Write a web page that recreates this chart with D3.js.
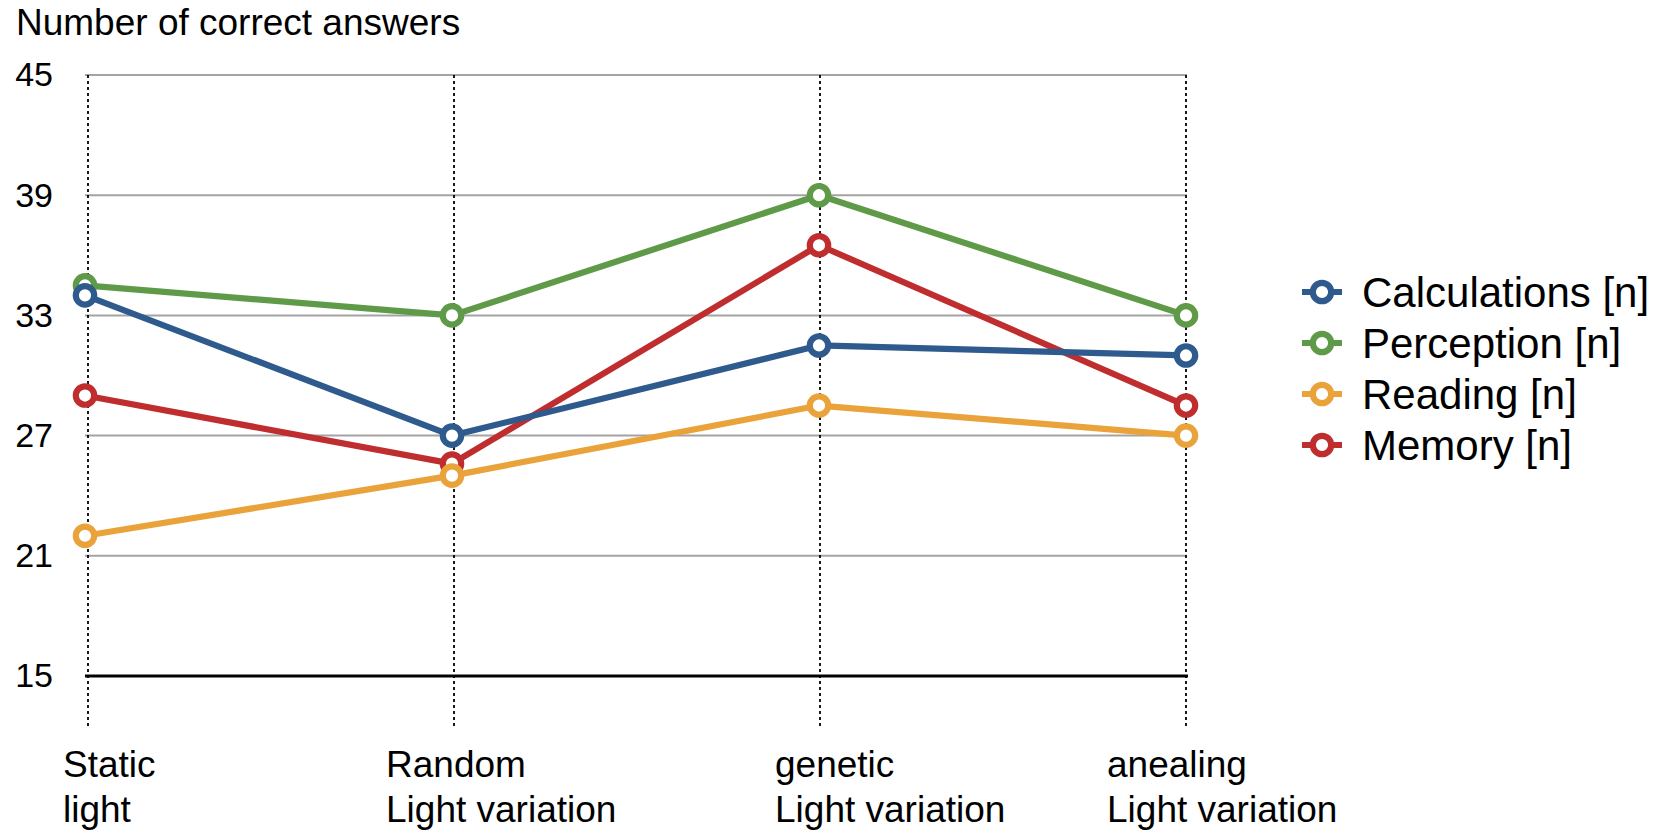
<!DOCTYPE html>
<html>
<head>
<meta charset="utf-8">
<script src="https://cdn.jsdelivr.net/npm/d3@7"></script>
<style>
  html, body { margin: 0; padding: 0; background: #fff; }
  svg { display: block; font-family: "Liberation Sans", Arial, sans-serif; }
</style>
</head>
<body>
<svg id="chart" width="1659" height="833"></svg>
<script>
// Conditions along the x axis (two-line labels)
const categories = ["Static", "Random", "genetic", "anealing"];
const categoryLines = [
  ["Static", "light"],
  ["Random", "Light variation"],
  ["genetic", "Light variation"],
  ["anealing", "Light variation"]
];

// Series names, colours and values (number of correct answers)
const seriesNames = ["Calculations [n]", "Perception [n]", "Reading [n]", "Memory [n]"];
const seriesColors = ["#2e5a8d", "#5f9a48", "#eaa33b", "#bf2d2f"];
const calculations = [34, 27, 31.5, 31];
const perception = [34.5, 33, 39, 33];
const reading = [22, 25, 28.5, 27];
const memory = [29, 25.6, 36.5, 28.5];
const seriesValues = [calculations, perception, reading, memory];

// Y axis ticks
const yTicks = [15, 21, 27, 33, 39, 45];
const yTitle = "Number of correct answers";

const svg = d3.select("#chart");

const x = d3.scalePoint().domain(categories).range([85, 1186]);
const xGuide = d3.scalePoint().domain(categories).range([88, 1186]);
const y = d3.scaleLinear().domain([15, 45]).range([676, 75]);

// horizontal gridlines
svg.append("g")
  .selectAll("line")
  .data(yTicks.filter(t => t !== 15))
  .join("line")
  .attr("x1", 85).attr("x2", 1187)
  .attr("y1", d => y(d)).attr("y2", d => y(d))
  .attr("stroke", "#a3a3a3")
  .attr("stroke-width", 2);

// dotted vertical guides at each condition
svg.append("g")
  .selectAll("line")
  .data(categories)
  .join("line")
  .attr("x1", d => xGuide(d)).attr("x2", d => xGuide(d))
  .attr("y1", y(45)).attr("y2", 728)
  .attr("stroke", "#000")
  .attr("stroke-width", 1.8)
  .attr("stroke-dasharray", "3,3");

// baseline at 15
svg.append("line")
  .attr("x1", 85).attr("x2", 1188)
  .attr("y1", y(15)).attr("y2", y(15))
  .attr("stroke", "#000")
  .attr("stroke-width", 3.2);

// y tick labels
const yAxis = svg.append("g")
  .attr("transform", "translate(53,0)")
  .call(d3.axisLeft(y).tickValues(yTicks).tickSize(0).tickPadding(0).tickFormat(d3.format("d")));
yAxis.select(".domain").remove();
yAxis.selectAll("text")
  .attr("font-size", 34)
  .attr("font-family", "'Liberation Sans', Arial, sans-serif")
  .attr("fill", "#000");

// axis title
svg.append("text")
  .attr("x", 16).attr("y", 35)
  .attr("font-size", 37)
  .attr("fill", "#000")
  .text(yTitle);

// category labels (left-aligned blocks)
const labelDx = [-22, -66, -44, -79];
const catG = svg.append("g");
categoryLines.forEach((lines, i) => {
  const t = catG.append("text")
    .attr("x", x(categories[i]) + labelDx[i])
    .attr("y", 777)
    .attr("font-size", 37)
    .attr("fill", "#000");
  lines.forEach((ln, j) => {
    t.append("tspan")
      .attr("x", x(categories[i]) + labelDx[i])
      .attr("y", 777 + j * 45)
      .text(ln);
  });
});

// series lines and markers (drawn last-to-first)
const line = d3.line()
  .x((d, i) => x(categories[i]))
  .y(d => y(d));

const order = [3, 2, 1, 0];
order.forEach(s => {
  const g = svg.append("g");
  g.append("path")
    .datum(seriesValues[s])
    .attr("d", line)
    .attr("fill", "none")
    .attr("stroke", seriesColors[s])
    .attr("stroke-width", 6.2)
    .attr("stroke-linejoin", "round");
  g.selectAll("circle")
    .data(seriesValues[s])
    .join("circle")
    .attr("cx", (d, i) => x(categories[i]))
    .attr("cy", d => y(d))
    .attr("r", 9.2)
    .attr("fill", "#fff")
    .attr("stroke", seriesColors[s])
    .attr("stroke-width", 6.2);
});

// legend
const legend = svg.append("g").attr("transform", "translate(1302,292)");
seriesNames.forEach((name, i) => {
  const row = legend.append("g").attr("transform", `translate(0,${i * 51})`);
  row.append("line")
    .attr("x1", 0).attr("x2", 40)
    .attr("y1", 0).attr("y2", 0)
    .attr("stroke", seriesColors[i])
    .attr("stroke-width", 6.2);
  row.append("circle")
    .attr("cx", 20).attr("cy", 0).attr("r", 9.2)
    .attr("fill", "#fff")
    .attr("stroke", seriesColors[i])
    .attr("stroke-width", 6.2);
  row.append("text")
    .attr("x", 60).attr("y", 0)
    .attr("dy", "0.35em")
    .attr("font-size", 42)
    .attr("fill", "#000")
    .text(name);
});
</script>
</body>
</html>
